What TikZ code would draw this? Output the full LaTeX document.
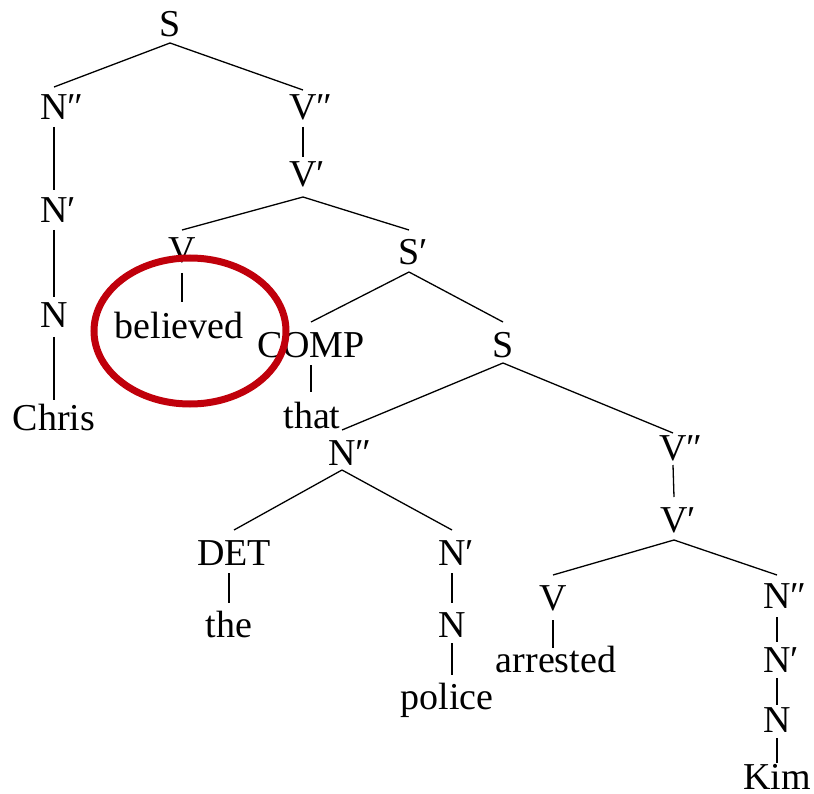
\documentclass[tikz,border=0pt]{standalone}
\usepackage{fontspec}
\setmainfont{Liberation Serif}
\definecolor{ringred}{HTML}{C0000B}
\begin{document}
\begin{tikzpicture}[x=1pt,y=-1pt,
  lab/.style={anchor=base,inner sep=0pt,font=\fontsize{38}{40}\selectfont},
  tline/.style={line width=1.3pt,black}]
\useasboundingbox (0,0) rectangle (814,794);
% nodes
\node[lab] (S) at (170,37) {S};
\node[lab] (Nbb) at (54,120) {N\rlap{″}};
\node[lab] (Nb) at (54,223) {N\rlap{′}};
\node[lab] (N) at (54,327) {N};
\node[lab] (chris) at (54,430) {Chris};
\node[lab] (Vbb) at (303,120) {V\rlap{″}};
\node[lab] (Vb) at (303,187) {V\rlap{′}};
\node[lab] (V) at (182,263) {V};
\node[lab] (believed) at (179,338) {believed};
\node[lab] (Sb) at (409,265) {S\rlap{′}};
\node[lab] (comp) at (311,357) {COMP};
\node[lab] (that) at (312,428) {that};
\node[lab] (Sii) at (503,357) {S};
\node[lab] (Nbbii) at (342,465) {N\rlap{″}};
\node[lab] (det) at (234,565) {DET};
\node[lab] (the) at (229,637) {the};
\node[lab] (Nbii) at (452,565) {N\rlap{′}};
\node[lab] (Nii) at (452,637) {N};
\node[lab] (police) at (447,709) {police};
\node[lab] (Vbbii) at (673,460) {V\rlap{″}};
\node[lab] (Vbii) at (674,532) {V\rlap{′}};
\node[lab] (Vii) at (553,610) {V};
\node[lab] (arrested) at (556,672) {arrested};
\node[lab] (Nbbiii) at (777,608) {N\rlap{″}};
\node[lab] (Nbiii) at (777,672) {N\rlap{′}};
\node[lab] (Niii) at (777,732) {N};
\node[lab] (kim) at (777,789) {Kim};
% edges
\draw[tline] ([yshift=-6pt]S.base) -- ([yshift=33pt]Nbb.base);
\draw[tline] ([yshift=-6pt]S.base) -- ([yshift=30pt]Vbb.base);
\draw[tline] ([yshift=-7pt]Nbb.base) -- ([yshift=33pt]Nb.base);
\draw[tline] ([yshift=-7pt]Nb.base) -- ([yshift=30pt]N.base);
\draw[tline] ([yshift=-10pt]N.base) -- ([yshift=30pt]chris.base);
\draw[tline] ([yshift=-7pt]Vbb.base) -- ([yshift=30pt]Vb.base);
\draw[tline] ([yshift=-10pt]Vb.base) -- ([yshift=33pt]V.base);
\draw[tline] ([yshift=-10pt]Vb.base) -- ([yshift=35pt]Sb.base);
\draw[tline] ([yshift=-10pt]V.base) -- ([yshift=36pt]V.base |- believed.base);
\draw[tline] ([yshift=-7pt]Sb.base) -- ([yshift=35pt]comp.base);
\draw[tline] ([yshift=-7pt]Sb.base) -- ([yshift=35pt]Sii.base);
\draw[tline] ([yshift=-8pt]comp.base) -- ([yshift=36pt]comp.base |- that.base);
\draw[tline] ([yshift=-6pt]Sii.base) -- ([yshift=35pt]Nbbii.base);
\draw[tline] ([yshift=-6pt]Sii.base) -- ([yshift=27pt]Vbbii.base);
\draw[tline] ([yshift=-5pt]Nbbii.base) -- ([yshift=35pt]det.base);
\draw[tline] ([yshift=-5pt]Nbbii.base) -- ([yshift=35pt]Nbii.base);
\draw[tline] ([yshift=-8pt,xshift=-5pt]det.base) -- ([yshift=34pt]the.base);
\draw[tline] ([yshift=-8pt]Nbii.base) -- ([yshift=34pt]Nii.base);
\draw[tline] ([yshift=-6pt]Nii.base) -- ([yshift=34pt]Nii.base |- police.base);
\draw[tline] ([yshift=-5pt]Vbbii.base) -- ([yshift=35pt]Vbii.base);
\draw[tline] ([yshift=-8pt]Vbii.base) -- ([yshift=35pt]Vii.base);
\draw[tline] ([yshift=-8pt]Vbii.base) -- ([yshift=33pt]Nbbiii.base);
\draw[tline] ([yshift=-10pt]Vii.base) -- ([yshift=24pt]Vii.base |- arrested.base);
\draw[tline] ([yshift=-9pt]Nbbiii.base) -- ([yshift=30pt]Nbiii.base);
\draw[tline] ([yshift=-6pt]Nbiii.base) -- ([yshift=27pt]Niii.base);
\draw[tline] ([yshift=-6pt]Niii.base) -- ([yshift=26pt]kim.base);
% highlight ring
\coordinate (ring) at (190,331);
\draw[ringred,line width=7pt] (ring) ellipse [x radius=96pt,y radius=73pt];
\end{tikzpicture}
\end{document}
